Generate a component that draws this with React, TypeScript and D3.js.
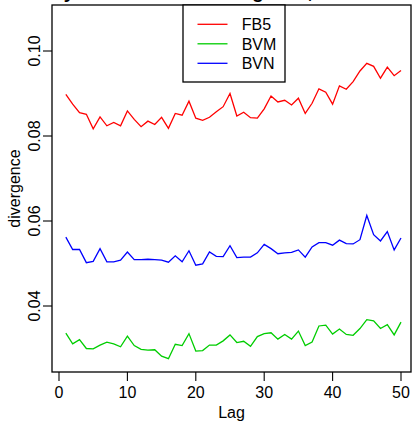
import React from "react";
import * as d3 from "d3";

const lags = d3.range(1, 51);
const fb5 = [0.0898,0.0875,0.0855,0.0851,0.0817,0.0845,0.0824,0.0832,0.0824,0.0859,
0.0839,0.0822,0.0835,0.0827,0.0844,0.0818,0.0853,0.0849,0.0882,0.0842,
0.0837,0.0844,0.0857,0.0869,0.0900,0.0847,0.0856,0.0843,0.0842,0.0864,
0.0894,0.0880,0.0884,0.0873,0.0889,0.0853,0.0877,0.0911,0.0903,0.0875,
0.0918,0.0910,0.0928,0.0953,0.0971,0.0964,0.0936,0.0962,0.0942,0.0954];
const bvm = [0.0336,0.0311,0.0321,0.0300,0.0299,0.0308,0.0315,0.0311,0.0304,0.0329,
0.0307,0.0298,0.0296,0.0297,0.0282,0.0276,0.0310,0.0307,0.0335,0.0294,
0.0295,0.0308,0.0308,0.0318,0.0332,0.0314,0.0317,0.0305,0.0328,0.0335,
0.0337,0.0322,0.0333,0.0322,0.0341,0.0307,0.0315,0.0353,0.0355,0.0334,
0.0346,0.0333,0.0331,0.0347,0.0368,0.0365,0.0347,0.0356,0.0332,0.0362];
const bvn = [0.0562,0.0533,0.0533,0.0502,0.0505,0.0535,0.0504,0.0504,0.0508,0.0527,
0.0509,0.0509,0.0510,0.0509,0.0508,0.0503,0.0518,0.0504,0.0530,0.0496,
0.0499,0.0527,0.0517,0.0516,0.0542,0.0514,0.0515,0.0515,0.0525,0.0545,
0.0535,0.0523,0.0525,0.0526,0.0532,0.0515,0.0539,0.0549,0.0549,0.0543,
0.0555,0.0547,0.0546,0.0556,0.0613,0.0568,0.0553,0.0575,0.0532,0.0560];

const seriesNames = ["FB5", "BVM", "BVN"];
const seriesColors = ["#FF0000", "#00CD00", "#0000FF"];
const seriesValues = [fb5, bvm, bvn];
const xTicks = [0, 10, 20, 30, 40, 50];
const yTicks = [0.04, 0.06, 0.08, 0.1];
const yTickLabels = ["0.04", "0.06", "0.08", "0.10"];
const title = "Symmetrized KL divergence, all models";
const xLabel = "Lag";
const yLabel = "divergence";

export default function App() {
  const W = 415, H = 421;
  const left = 52, right = 411, top = 5, bottom = 372;
  const x = d3.scaleLinear().domain([-1.023, 51.462]).range([left, right]);
  const y = d3.scaleLinear().domain([0.024471, 0.110824]).range([bottom, top]);
  const line = d3.line<number>().x((_, i) => x(lags[i])).y((d) => y(d));
  const font = "Liberation Sans, Arial, sans-serif";
  const fs = 16;
  const legX0 = 183, legX1 = 285, legY0 = top, legY1 = 82;
  const legRowY = (i: number) => 24.3 + i * 19.5;
  return (
    <svg width={W} height={H} style={{ position: "absolute", left: 0, top: 0 }} fontFamily={font}>
      <rect width={W} height={H} fill="#fff" />
      <text x={(left + right) / 2} y={-2} textAnchor="middle" fontWeight="bold" fontSize={19.2}>{title}</text>
      {seriesValues.map((vals, k) => (
        <path key={k} d={line(vals) || ""} fill="none" stroke={seriesColors[k]} strokeWidth={1.3} />
      ))}
      <rect x={left} y={top} width={right - left} height={bottom - top} fill="none" stroke="#000" strokeWidth={1.3} />
      {xTicks.map((t) => (
        <g key={t}>
          <line x1={x(t)} x2={x(t)} y1={bottom} y2={bottom + 9} stroke="#000" strokeWidth={1.1} />
          <text x={x(t)} y={398} textAnchor="middle" fontSize={fs}>{t}</text>
        </g>
      ))}
      {yTicks.map((t, i) => (
        <g key={t}>
          <line x1={left - 9} x2={left} y1={y(t)} y2={y(t)} stroke="#000" strokeWidth={1.1} />
          <text transform={`translate(40,${y(t)}) rotate(-90)`} textAnchor="middle" fontSize={fs}>{yTickLabels[i]}</text>
        </g>
      ))}
      <text x={(left + right) / 2} y={418} textAnchor="middle" fontSize={fs}>{xLabel}</text>
      <text transform={`translate(20,${(top + bottom) / 2}) rotate(-90)`} textAnchor="middle" fontSize={fs}>{yLabel}</text>
      <rect x={legX0} y={legY0} width={legX1 - legX0} height={legY1 - legY0} fill="#fff" stroke="#000" strokeWidth={1.3} />
      {seriesNames.map((n, i) => (
        <g key={n}>
          <line x1={197.5} x2={227.5} y1={legRowY(i)} y2={legRowY(i)} stroke={seriesColors[i]} strokeWidth={1.3} />
          <text x={241.7} y={legRowY(i) + 6} fontSize={fs}>{n}</text>
        </g>
      ))}
    </svg>
  );
}
